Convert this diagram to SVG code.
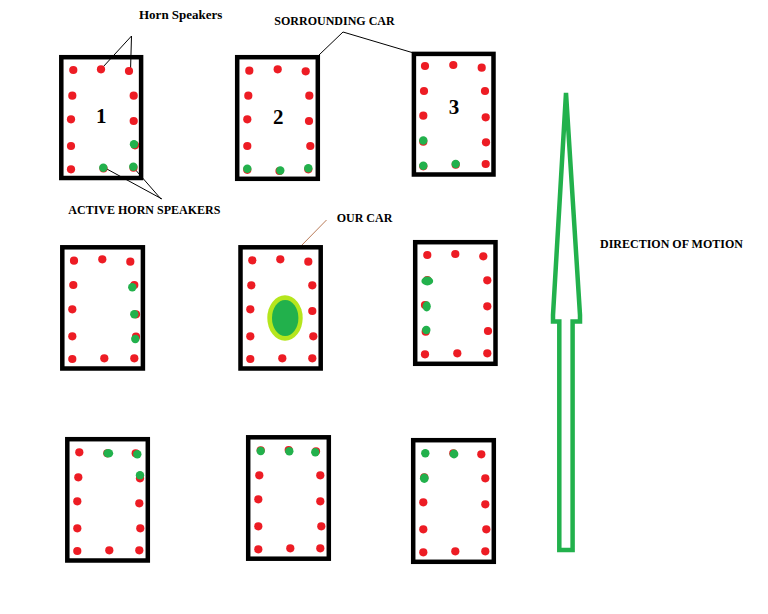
<svg xmlns="http://www.w3.org/2000/svg" width="768" height="614" viewBox="0 0 768 614">
<style>
.car{fill:none;stroke:#000;stroke-width:4.5}
.r{fill:#ed1c24}
.g{fill:#22b14c}
.lbl{font-family:"Liberation Serif","Times New Roman",serif;font-weight:bold;font-size:12px;fill:#000}
.num{font-family:"Liberation Serif","Times New Roman",serif;font-weight:bold;font-size:21px;fill:#000;text-anchor:middle}
.ln{stroke:#000;stroke-width:1;fill:none}
</style>
<defs>
<circle id="rd" r="4.1" fill="#ed1c24"/>
<circle id="gd" r="4.2" fill="#22b14c"/>
</defs>
<rect width="768" height="614" fill="#fff"/>
<g id="connectors">
<line class="ln" x1="131.5" y1="36" x2="103" y2="67"/>
<line class="ln" x1="131.5" y1="36" x2="130.5" y2="71"/>
<line class="ln" x1="105" y1="168" x2="162" y2="199"/>
<line class="ln" x1="133" y1="167" x2="161" y2="199"/>
<line class="ln" x1="343" y1="32" x2="319" y2="55"/>
<line class="ln" x1="343" y1="32" x2="412" y2="52.5"/>
<line x1="326.5" y1="220" x2="300.5" y2="246.5" stroke="#b97a57" stroke-width="1"/>
</g>
<g id="car1">
<rect class="car" x="61.3" y="57.2" width="79.8" height="120.8"/>
<use href="#rd" x="73.3" y="70"/><use href="#rd" x="101" y="69.3"/><use href="#rd" x="129" y="71"/>
<use href="#rd" x="72.3" y="95.7"/><use href="#rd" x="133.7" y="95.7"/>
<use href="#rd" x="71" y="119.3"/><use href="#rd" x="133.7" y="121"/>
<use href="#rd" x="71" y="146"/><use href="#rd" x="135" y="145.3"/><use href="#gd" x="134" y="144.3"/>
<use href="#rd" x="71" y="169.3"/><use href="#rd" x="103.5" y="168.5"/><use href="#gd" x="103.3" y="167.7"/><use href="#rd" x="133.5" y="167.7"/><use href="#gd" x="133.3" y="166.7"/>
<text class="num" x="101.3" y="123.3">1</text>
</g>
<g id="car2">
<rect class="car" x="237.2" y="57.2" width="80.6" height="121.6"/>
<use href="#rd" x="249.3" y="70.7"/><use href="#rd" x="277.7" y="69.3"/><use href="#rd" x="305.7" y="71.3"/>
<use href="#rd" x="248.3" y="95.7"/><use href="#rd" x="309.3" y="95.7"/>
<use href="#rd" x="247.3" y="119.3"/><use href="#rd" x="309" y="121"/>
<use href="#rd" x="247.3" y="146"/><use href="#rd" x="310.3" y="146"/>
<use href="#rd" x="247.3" y="169.8"/><use href="#gd" x="247.3" y="168.8"/><use href="#rd" x="279.5" y="171"/><use href="#gd" x="280.3" y="170.5"/><use href="#rd" x="308.3" y="169.3"/><use href="#gd" x="308.3" y="168.3"/>
<text class="num" x="278.3" y="123.7">2</text>
</g>
<g id="car3">
<rect class="car" x="413.9" y="53.9" width="79.6" height="120.6"/>
<use href="#rd" x="425" y="66"/><use href="#rd" x="453.3" y="65"/><use href="#rd" x="481.7" y="67.7"/>
<use href="#rd" x="424" y="91"/><use href="#rd" x="485" y="91"/>
<use href="#rd" x="423.3" y="115.7"/><use href="#rd" x="485.7" y="117.3"/>
<use href="#rd" x="423.3" y="141.7"/><use href="#gd" x="423.3" y="140.5"/><use href="#rd" x="486" y="142.3"/>
<use href="#rd" x="423.3" y="166.3"/><use href="#gd" x="423.3" y="165.7"/><use href="#rd" x="455.7" y="164.7"/><use href="#gd" x="455.7" y="164"/><use href="#rd" x="485.7" y="164"/>
<text class="num" x="454" y="113.7">3</text>
</g>
<g id="car4">
<rect class="car" x="62.3" y="247.3" width="80.6" height="121.2"/>
<use href="#rd" x="74" y="260.7"/><use href="#rd" x="102.3" y="259.3"/><use href="#rd" x="130.3" y="261.7"/>
<use href="#rd" x="73.3" y="285"/><use href="#rd" x="134.3" y="285"/><use href="#gd" x="132.3" y="287.3"/>
<use href="#rd" x="72.3" y="309.3"/><use href="#rd" x="136" y="314.3"/><use href="#gd" x="134.3" y="314.3"/>
<use href="#rd" x="72.3" y="336.3"/><use href="#rd" x="136" y="336.7"/><use href="#gd" x="135.3" y="339"/>
<use href="#rd" x="72.3" y="359"/><use href="#rd" x="104.3" y="358.3"/><use href="#rd" x="134.3" y="358.3"/>
</g>
<g id="car5">
<rect class="car" x="240.5" y="247.3" width="80.2" height="121.2"/>
<use href="#rd" x="252.3" y="260.3"/><use href="#rd" x="280.3" y="259.3"/><use href="#rd" x="308.3" y="261.7"/>
<use href="#rd" x="251.3" y="285.3"/><use href="#rd" x="312.3" y="285.3"/>
<use href="#rd" x="250.3" y="309.3"/><use href="#rd" x="312.3" y="311"/>
<use href="#rd" x="250.3" y="336.3"/><use href="#rd" x="313.3" y="336.3"/>
<use href="#rd" x="250.3" y="359"/><use href="#rd" x="282.3" y="358.3"/><use href="#rd" x="312.3" y="358.3"/>
<ellipse cx="285" cy="318" rx="17.7" ry="22.7" fill="#b5e61d"/>
<ellipse cx="285.2" cy="318" rx="13.2" ry="18" fill="#22b14c"/>
</g>
<g id="car6">
<rect class="car" x="415.2" y="242.2" width="80.3" height="121.6"/>
<use href="#rd" x="427.3" y="255"/><use href="#rd" x="455.3" y="254"/><use href="#rd" x="483.3" y="256.3"/>
<use href="#rd" x="427.3" y="280"/><ellipse class="g" cx="427.3" cy="281" rx="5.9" ry="4.4"/><use href="#rd" x="487.3" y="280.3"/>
<use href="#rd" x="425" y="305"/><ellipse class="g" cx="426.7" cy="306.3" rx="4.1" ry="5.1"/><use href="#rd" x="487.3" y="306.3"/>
<use href="#rd" x="425.7" y="331.7"/><use href="#gd" x="426.3" y="330"/><use href="#rd" x="488" y="331"/>
<use href="#rd" x="425" y="354.3"/><use href="#rd" x="457.3" y="353.3"/><use href="#rd" x="487.3" y="353.3"/>
</g>
<g id="car7">
<rect class="car" x="67.3" y="439.2" width="80.5" height="121.3"/>
<use href="#rd" x="79.3" y="452.3"/><use href="#rd" x="107.3" y="453.3"/><ellipse class="g" cx="108.3" cy="453.3" rx="4.9" ry="4.3"/><use href="#rd" x="135.7" y="453.3"/><use href="#gd" x="137.3" y="454.3"/>
<use href="#rd" x="78.3" y="477.3"/><use href="#rd" x="140" y="478.3"/><use href="#gd" x="140" y="475.3"/>
<use href="#rd" x="77.3" y="501.3"/><use href="#rd" x="139.3" y="503.3"/>
<use href="#rd" x="77.3" y="528.3"/><use href="#rd" x="140.3" y="528.3"/>
<use href="#rd" x="77.3" y="551"/><use href="#rd" x="109.3" y="550.3"/><use href="#rd" x="139.3" y="550.3"/>
</g>
<g id="car8">
<rect class="car" x="248.2" y="437.3" width="80.6" height="121.4"/>
<use href="#rd" x="260.7" y="450.3"/><use href="#gd" x="260.7" y="451"/><use href="#rd" x="288.7" y="450"/><use href="#gd" x="289.3" y="451.3"/><use href="#rd" x="316" y="451.3"/><use href="#gd" x="315.3" y="452.3"/>
<use href="#rd" x="259.3" y="475.3"/><use href="#rd" x="320.3" y="475.3"/>
<use href="#rd" x="258.3" y="499.3"/><use href="#rd" x="320.3" y="501.3"/>
<use href="#rd" x="258.3" y="526.3"/><use href="#rd" x="321.3" y="526.3"/>
<use href="#rd" x="258.3" y="549.3"/><use href="#rd" x="290.3" y="548.3"/><use href="#rd" x="320.3" y="548.3"/>
</g>
<g id="car9">
<rect class="car" x="413.2" y="440.2" width="80.6" height="121.6"/>
<use href="#gd" x="425.3" y="453.3"/><use href="#rd" x="453.3" y="453.3"/><circle class="g" cx="454" cy="454" r="4.4"/><use href="#rd" x="481.3" y="454.3"/>
<use href="#rd" x="424.3" y="477.3"/><ellipse class="g" cx="424.3" cy="478.3" rx="4.4" ry="4.7"/><use href="#rd" x="485.3" y="478.3"/>
<use href="#rd" x="423.3" y="502.3"/><use href="#rd" x="485.3" y="504.3"/>
<use href="#rd" x="423.3" y="529.3"/><use href="#rd" x="486.3" y="529.3"/>
<use href="#rd" x="423.3" y="552.3"/><use href="#rd" x="455.3" y="551.3"/><use href="#rd" x="485.3" y="551.3"/>
</g>
<g id="arrow">
<path d="M566,93 L553,315 L553,321.5 L559.3,321.5 L559.3,550 L572.6,550 L572.6,321.5 L580,321.5 L580,315 Z" fill="none" stroke="#22b14c" stroke-width="4.5" stroke-linejoin="miter"/>
</g>
<g id="labels">
<text class="lbl" x="139" y="19" style="font-size:13px">Horn Speakers</text>
<text class="lbl" x="274.3" y="25">SORROUNDING CAR</text>
<text class="lbl" x="68.3" y="214.3">ACTIVE HORN SPEAKERS</text>
<text class="lbl" x="336.7" y="221.5">OUR CAR</text>
<text class="lbl" x="600" y="247.5">DIRECTION OF MOTION</text>
</g>
</svg>
